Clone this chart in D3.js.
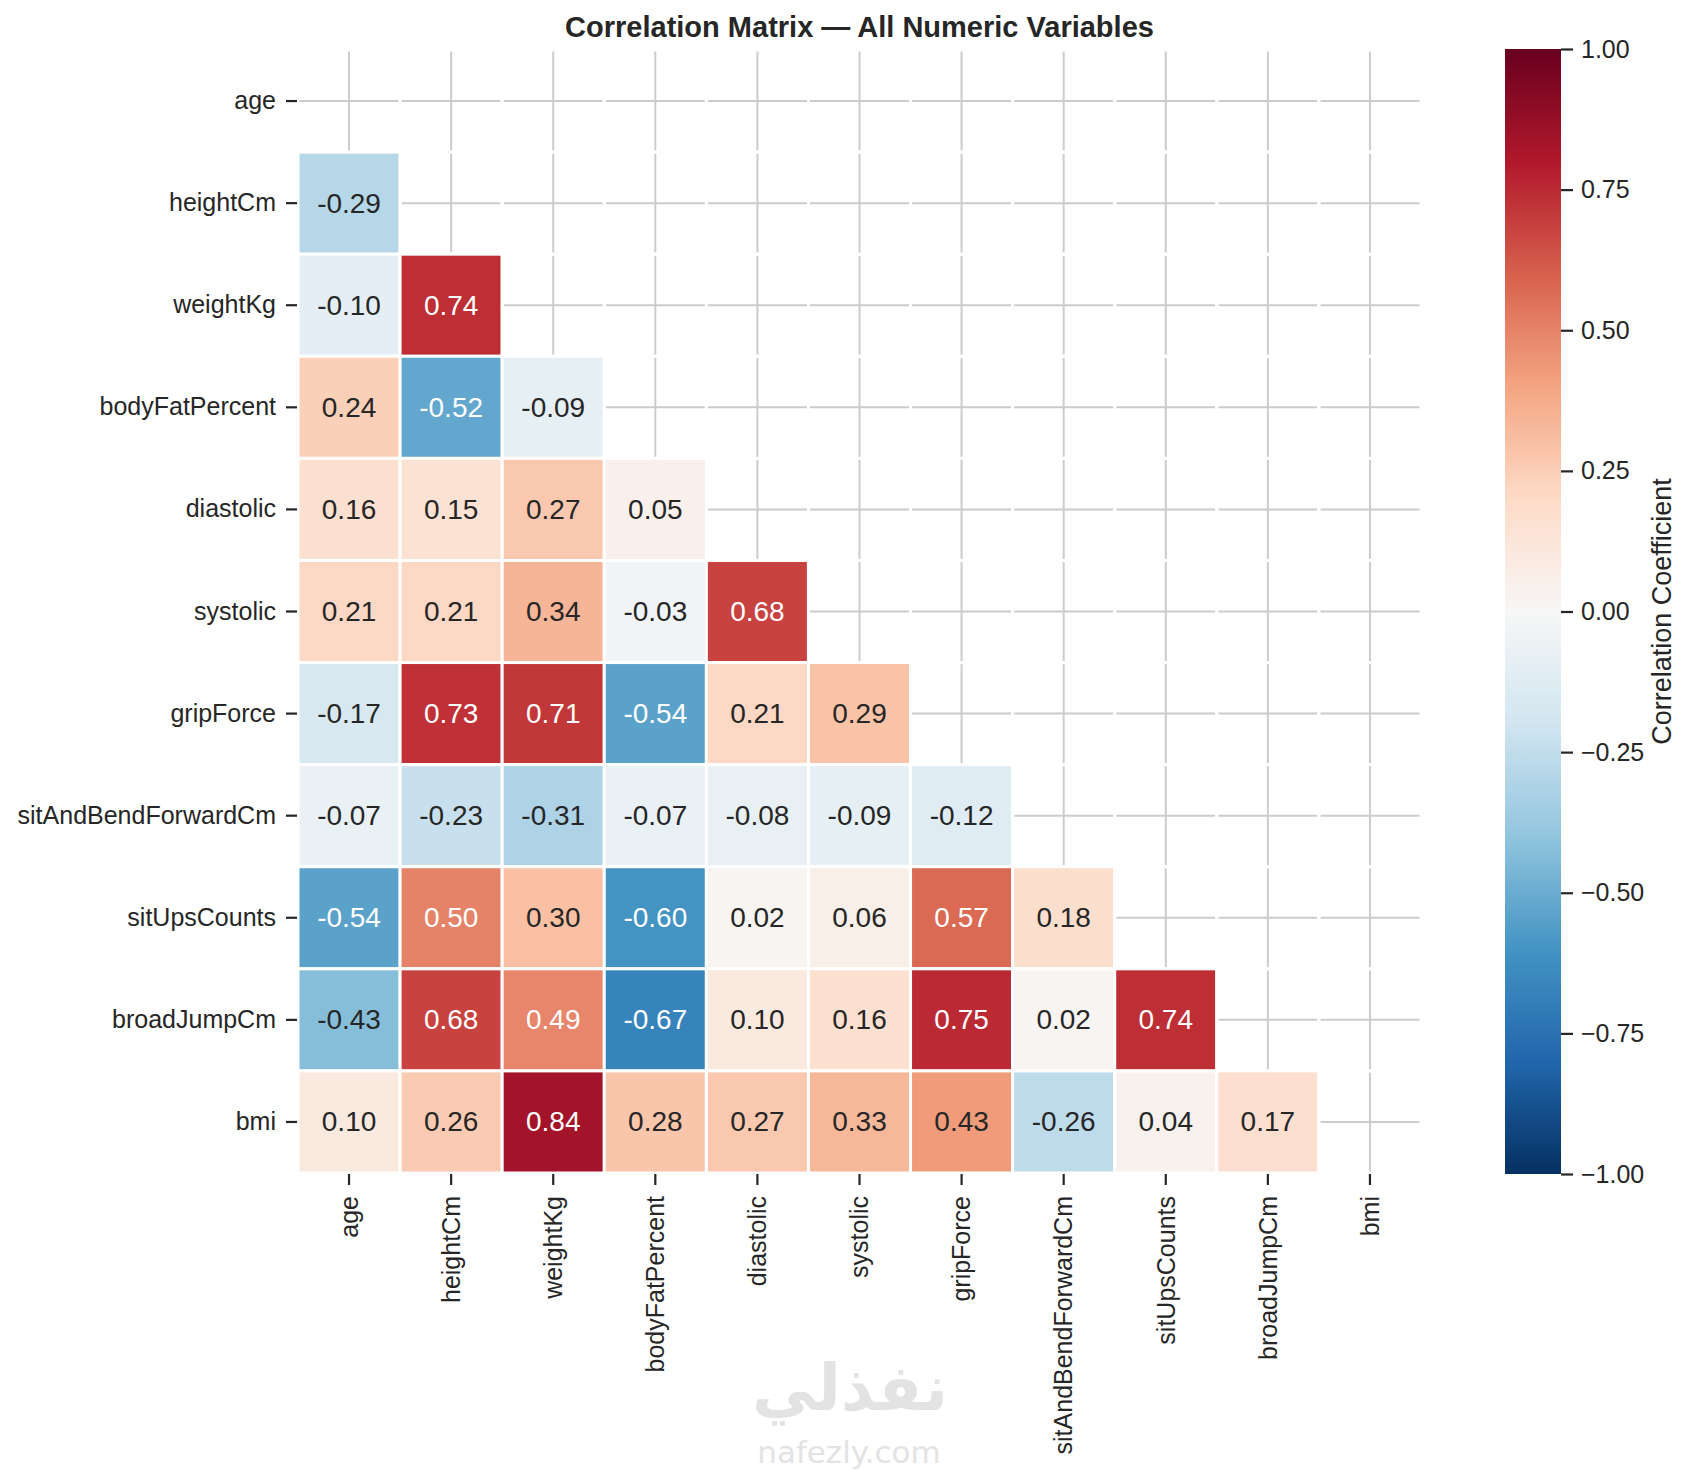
<!DOCTYPE html>
<html>
<head>
<meta charset="utf-8">
<script src="https://cdn.jsdelivr.net/npm/d3@7"></script>
<style>
  body { margin: 0; background: #fff; }
  text { font-family: "Liberation Sans", Arial, sans-serif; fill: #262626; }
</style>
</head>
<body>
<div id="chart"></div>
<script>
// Variables (rows and columns of the matrix)
const variables = ['age', 'heightCm', 'weightKg', 'bodyFatPercent', 'diastolic', 'systolic',
  'gripForce', 'sitAndBendForwardCm', 'sitUpsCounts', 'broadJumpCm', 'bmi'];

// Lower triangle: corrRows[i] holds the values of row i against columns 0..i-1
const corrRows = [
  [],
  [-0.29],
  [-0.10, 0.74],
  [0.24, -0.52, -0.09],
  [0.16, 0.15, 0.27, 0.05],
  [0.21, 0.21, 0.34, -0.03, 0.68],
  [-0.17, 0.73, 0.71, -0.54, 0.21, 0.29],
  [-0.07, -0.23, -0.31, -0.07, -0.08, -0.09, -0.12],
  [-0.54, 0.50, 0.30, -0.60, 0.02, 0.06, 0.57, 0.18],
  [-0.43, 0.68, 0.49, -0.67, 0.10, 0.16, 0.75, 0.02, 0.74],
  [0.10, 0.26, 0.84, 0.28, 0.27, 0.33, 0.43, -0.26, 0.04, 0.17]
];

const colorbarTicks = [-1, -0.75, -0.5, -0.25, 0, 0.25, 0.5, 0.75, 1];

// RdBu_r, the 11 ColorBrewer stops interpolated linearly (like matplotlib)
const rdbuR = ['#053061', '#2166ac', '#4393c3', '#92c5de', '#d1e5f0', '#f7f7f7',
  '#fddbc7', '#f4a582', '#d6604d', '#b2182b', '#67001f'];

const W = 1694, H = 1471;
const mLeft = 298, mTop = 50, size = 1123;

const svg = d3.select('#chart').append('svg')
  .attr('width', W).attr('height', H);

const x = d3.scaleBand().domain(variables).range([mLeft, mLeft + size]);
const y = d3.scaleBand().domain(variables).range([mTop, mTop + size]);
const bw = x.bandwidth();

const color = d3.scaleLinear()
  .domain(d3.range(rdbuR.length).map(i => -1 + 2 * i / (rdbuR.length - 1)))
  .range(rdbuR)
  .interpolate(d3.interpolateRgb);

function luminance(c) {
  const rgb = d3.rgb(c);
  const lin = v => { v /= 255; return v <= 0.03928 ? v / 12.92 : Math.pow((v + 0.055) / 1.055, 2.4); };
  return 0.2126 * lin(rgb.r) + 0.7152 * lin(rgb.g) + 0.0722 * lin(rgb.b);
}

// Title
svg.append('text')
  .attr('x', mLeft + size / 2).attr('y', 37)
  .attr('text-anchor', 'middle')
  .attr('font-size', 29).attr('font-weight', 'bold')
  .text('Correlation Matrix — All Numeric Variables');

// Grid lines behind the cells
const grid = svg.append('g').attr('stroke', '#cccccc').attr('stroke-width', 2);
grid.selectAll('.h').data(variables).join('line').attr('class', 'h')
  .attr('x1', mLeft).attr('x2', mLeft + size)
  .attr('y1', d => y(d) + bw / 2).attr('y2', d => y(d) + bw / 2);
grid.selectAll('.v').data(variables).join('line').attr('class', 'v')
  .attr('y1', mTop).attr('y2', mTop + size)
  .attr('x1', d => x(d) + bw / 2).attr('x2', d => x(d) + bw / 2);

// Cells (masked ones keep their white edges)
const cells = [];
variables.forEach((r, i) => {
  variables.forEach((c, j) => {
    cells.push({ row: r, col: c, value: j < i ? corrRows[i][j] : null });
  });
});

svg.append('g').selectAll('rect').data(cells).join('rect')
  .attr('x', d => x(d.col)).attr('y', d => y(d.row))
  .attr('width', bw).attr('height', bw)
  .attr('fill', d => d.value === null ? 'none' : color(d.value))
  .attr('stroke', '#fff').attr('stroke-width', 3);

svg.append('g').selectAll('text').data(cells.filter(d => d.value !== null)).join('text')
  .attr('x', d => x(d.col) + bw / 2).attr('y', d => y(d.row) + bw / 2)
  .attr('text-anchor', 'middle').attr('dominant-baseline', 'central')
  .attr('font-size', 28)
  .style('fill', d => luminance(color(d.value)) > 0.408 ? '#262626' : '#ffffff')
  .text(d => d.value.toFixed(2));

// Axes
const yAxis = svg.append('g')
  .attr('transform', `translate(${mLeft - 1},0)`)
  .call(d3.axisLeft(y).tickSize(11).tickPadding(10));
const xAxis = svg.append('g')
  .attr('transform', `translate(0,${mTop + size + 1})`)
  .call(d3.axisBottom(x).tickSize(11).tickPadding(10));

[yAxis, xAxis].forEach(a => {
  a.select('.domain').remove();
  a.selectAll('line').attr('stroke', '#262626').attr('stroke-width', 2.2);
  a.selectAll('text').attr('font-size', 25).attr('fill', null)
    .attr('font-family', null);
});
xAxis.selectAll('text')
  .attr('transform', 'rotate(-90)')
  .attr('text-anchor', 'end')
  .attr('x', -22).attr('y', 0).attr('dy', '0.35em');

// Colorbar
const cbX = 1505, cbW = 56, cbTop = 49, cbBottom = 1174;
const defs = svg.append('defs');
const grad = defs.append('linearGradient').attr('id', 'cb')
  .attr('x1', 0).attr('x2', 0).attr('y1', 1).attr('y2', 0);
d3.range(0, 1.0001, 0.025).forEach(t => {
  grad.append('stop').attr('offset', t).attr('stop-color', color(-1 + 2 * t));
});
svg.append('rect')
  .attr('x', cbX).attr('y', cbTop).attr('width', cbW).attr('height', cbBottom - cbTop)
  .attr('fill', 'url(#cb)');

const cbScale = d3.scaleLinear().domain([-1, 1]).range([cbBottom, cbTop]);
const cbAxis = svg.append('g')
  .attr('transform', `translate(${cbX + cbW},0)`)
  .call(d3.axisRight(cbScale).tickValues(colorbarTicks).tickSize(12).tickPadding(8)
    .tickFormat(d3.format('.2f')));
cbAxis.select('.domain').remove();
cbAxis.selectAll('line').attr('stroke', '#262626').attr('stroke-width', 2.2);
cbAxis.selectAll('text').attr('font-size', 25).attr('fill', null).attr('font-family', null);

svg.append('text')
  .attr('transform', `translate(1662,${(cbTop + cbBottom) / 2}) rotate(-90)`)
  .attr('text-anchor', 'middle').attr('dominant-baseline', 'central')
  .attr('font-size', 27)
  .text('Correlation Coefficient');

// Watermark
svg.append('text')
  .attr('x', 850).attr('y', 1410)
  .attr('text-anchor', 'middle')
  .attr('font-size', 64).attr('font-weight', 'bold')
  .style('font-family', '"DejaVu Sans", sans-serif')
  .style('fill', '#e3e3e3')
  .text('نفذلي');
svg.append('text')
  .attr('x', 849).attr('y', 1463)
  .attr('text-anchor', 'middle')
  .attr('font-size', 31)
  .style('font-family', '"DejaVu Sans", sans-serif')
  .style('fill', '#e3e3e3')
  .text('nafezly.com');
</script>
</body>
</html>
